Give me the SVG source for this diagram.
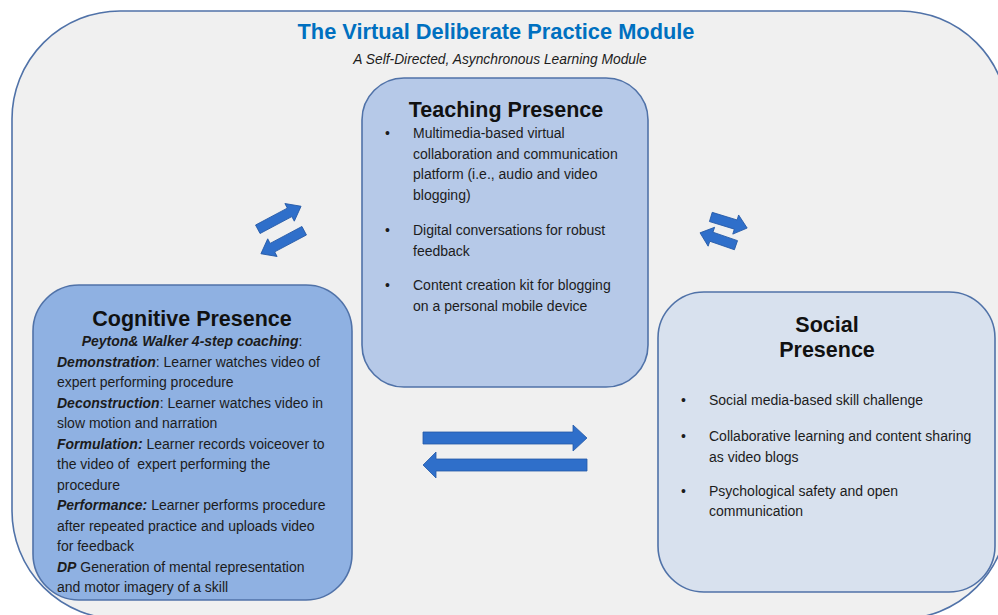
<svg xmlns="http://www.w3.org/2000/svg" xmlns:xlink="http://www.w3.org/1999/xlink" width="998" height="615" viewBox="0 0 998 615">
  <style>
    text { font-family: "Liberation Sans", Arial, sans-serif; fill: #1c1c1c; }
    .frame { fill: #f0f0f0; stroke: #5072a8; stroke-width: 1.6; }
    .box { stroke: #5072a8; stroke-width: 1.6; }
    .title { font-size: 21.8px; font-weight: bold; fill: #0070c0; }
    .subtitle { font-size: 13.8px; font-style: italic; }
    .head { font-size: 21.5px; font-weight: bold; fill: #111; }
    .body { font-size: 14px; }
    .bi { font-weight: bold; font-style: italic; }
    .arrow { fill: #2f6fca; stroke: #2459a6; stroke-width: 0.8; }
  </style>
  <defs>
    <path id="arrowLong" d="M-24,-4.8 L12,-4.8 L12,-10 L25,0 L12,10 L12,4.8 L-24,4.8 Z"/>
    <path id="arrowShort" d="M-19,-4.8 L7,-4.8 L7,-10 L19,0 L7,10 L7,4.8 L-19,4.8 Z"/>
  </defs>

  <rect width="998" height="615" fill="#ffffff"/>

  <!-- module frame -->
  <rect class="frame" x="12" y="11" width="996" height="608" rx="108" ry="108"/>
  <text class="title" x="496" y="39" text-anchor="middle">The Virtual Deliberate Practice Module</text>
  <text class="subtitle" x="500" y="64" text-anchor="middle">A Self-Directed, Asynchronous Learning Module</text>

  <!-- teaching presence -->
  <g id="teaching-presence">
    <rect class="box" x="362" y="78" width="286" height="309" rx="42" ry="42" fill="#b6c9e8"/>
    <text class="head" x="506" y="117" text-anchor="middle">Teaching Presence</text>
    <g class="body">
      <text x="385" y="138">•</text>
      <text x="413" y="138">Multimedia-based virtual</text>
      <text x="413" y="158.5">collaboration and communication</text>
      <text x="413" y="179">platform (i.e., audio and video</text>
      <text x="413" y="199.5">blogging)</text>
      <text x="385" y="235">•</text>
      <text x="413" y="235">Digital conversations for robust</text>
      <text x="413" y="255.5">feedback</text>
      <text x="385" y="290">•</text>
      <text x="413" y="290">Content creation kit for blogging</text>
      <text x="413" y="310.5">on a personal mobile device</text>
    </g>
  </g>

  <!-- cognitive presence -->
  <g id="cognitive-presence">
    <rect class="box" x="33" y="285" width="319" height="315" rx="46" ry="46" fill="#8fb1e2"/>
    <text class="head" x="192" y="326" text-anchor="middle">Cognitive Presence</text>
    <g class="body">
      <text x="192" y="346" text-anchor="middle"><tspan class="bi">Peyton&amp; Walker 4-step coaching</tspan>:</text>
      <text x="57" y="366.5"><tspan class="bi">Demonstration</tspan>: Learner watches video of</text>
      <text x="57" y="387">expert performing procedure</text>
      <text x="57" y="407.5"><tspan class="bi">Deconstruction</tspan>: Learner watches video in</text>
      <text x="57" y="428">slow motion and narration</text>
      <text x="57" y="448.5"><tspan class="bi">Formulation:</tspan> Learner records voiceover to</text>
      <text x="57" y="469" xml:space="preserve">the video of  expert performing the</text>
      <text x="57" y="489.5">procedure</text>
      <text x="57" y="510"><tspan class="bi">Performance:</tspan> Learner performs procedure</text>
      <text x="57" y="530.5">after repeated practice and uploads video</text>
      <text x="57" y="551">for feedback</text>
      <text x="57" y="571.5"><tspan class="bi">DP</tspan> Generation of mental representation</text>
      <text x="57" y="592">and motor imagery of a skill</text>
    </g>
  </g>

  <!-- social presence -->
  <g id="social-presence">
    <rect class="box" x="658" y="292" width="337" height="300" rx="46" ry="46" fill="#d8e1ee"/>
    <text class="head" x="827" y="332" text-anchor="middle">Social</text>
    <text class="head" x="827" y="357" text-anchor="middle">Presence</text>
    <g class="body">
      <text x="681" y="405">•</text>
      <text x="709" y="405">Social media-based skill challenge</text>
      <text x="681" y="441">•</text>
      <text x="709" y="441">Collaborative learning and content sharing</text>
      <text x="709" y="461.5">as video blogs</text>
      <text x="681" y="495.5">•</text>
      <text x="709" y="495.5">Psychological safety and open</text>
      <text x="709" y="516">communication</text>
    </g>
  </g>

  <!-- two-way links between the presences -->
  <g id="connectors">
    <use class="arrow" xlink:href="#arrowLong" transform="translate(279,218) rotate(-28)"/>
    <use class="arrow" xlink:href="#arrowLong" transform="translate(283,242) rotate(152)"/>
    <use class="arrow" xlink:href="#arrowShort" transform="translate(729,222.5) rotate(17)"/>
    <use class="arrow" xlink:href="#arrowShort" transform="translate(718,239) rotate(199)"/>
    <path class="arrow" d="M423,432 L573,432 L573,425 L587,438 L573,451 L573,444 L423,444 Z"/>
    <path class="arrow" d="M587,459 L436,459 L436,452 L423,465 L436,478 L436,471 L587,471 Z"/>
  </g>
</svg>
